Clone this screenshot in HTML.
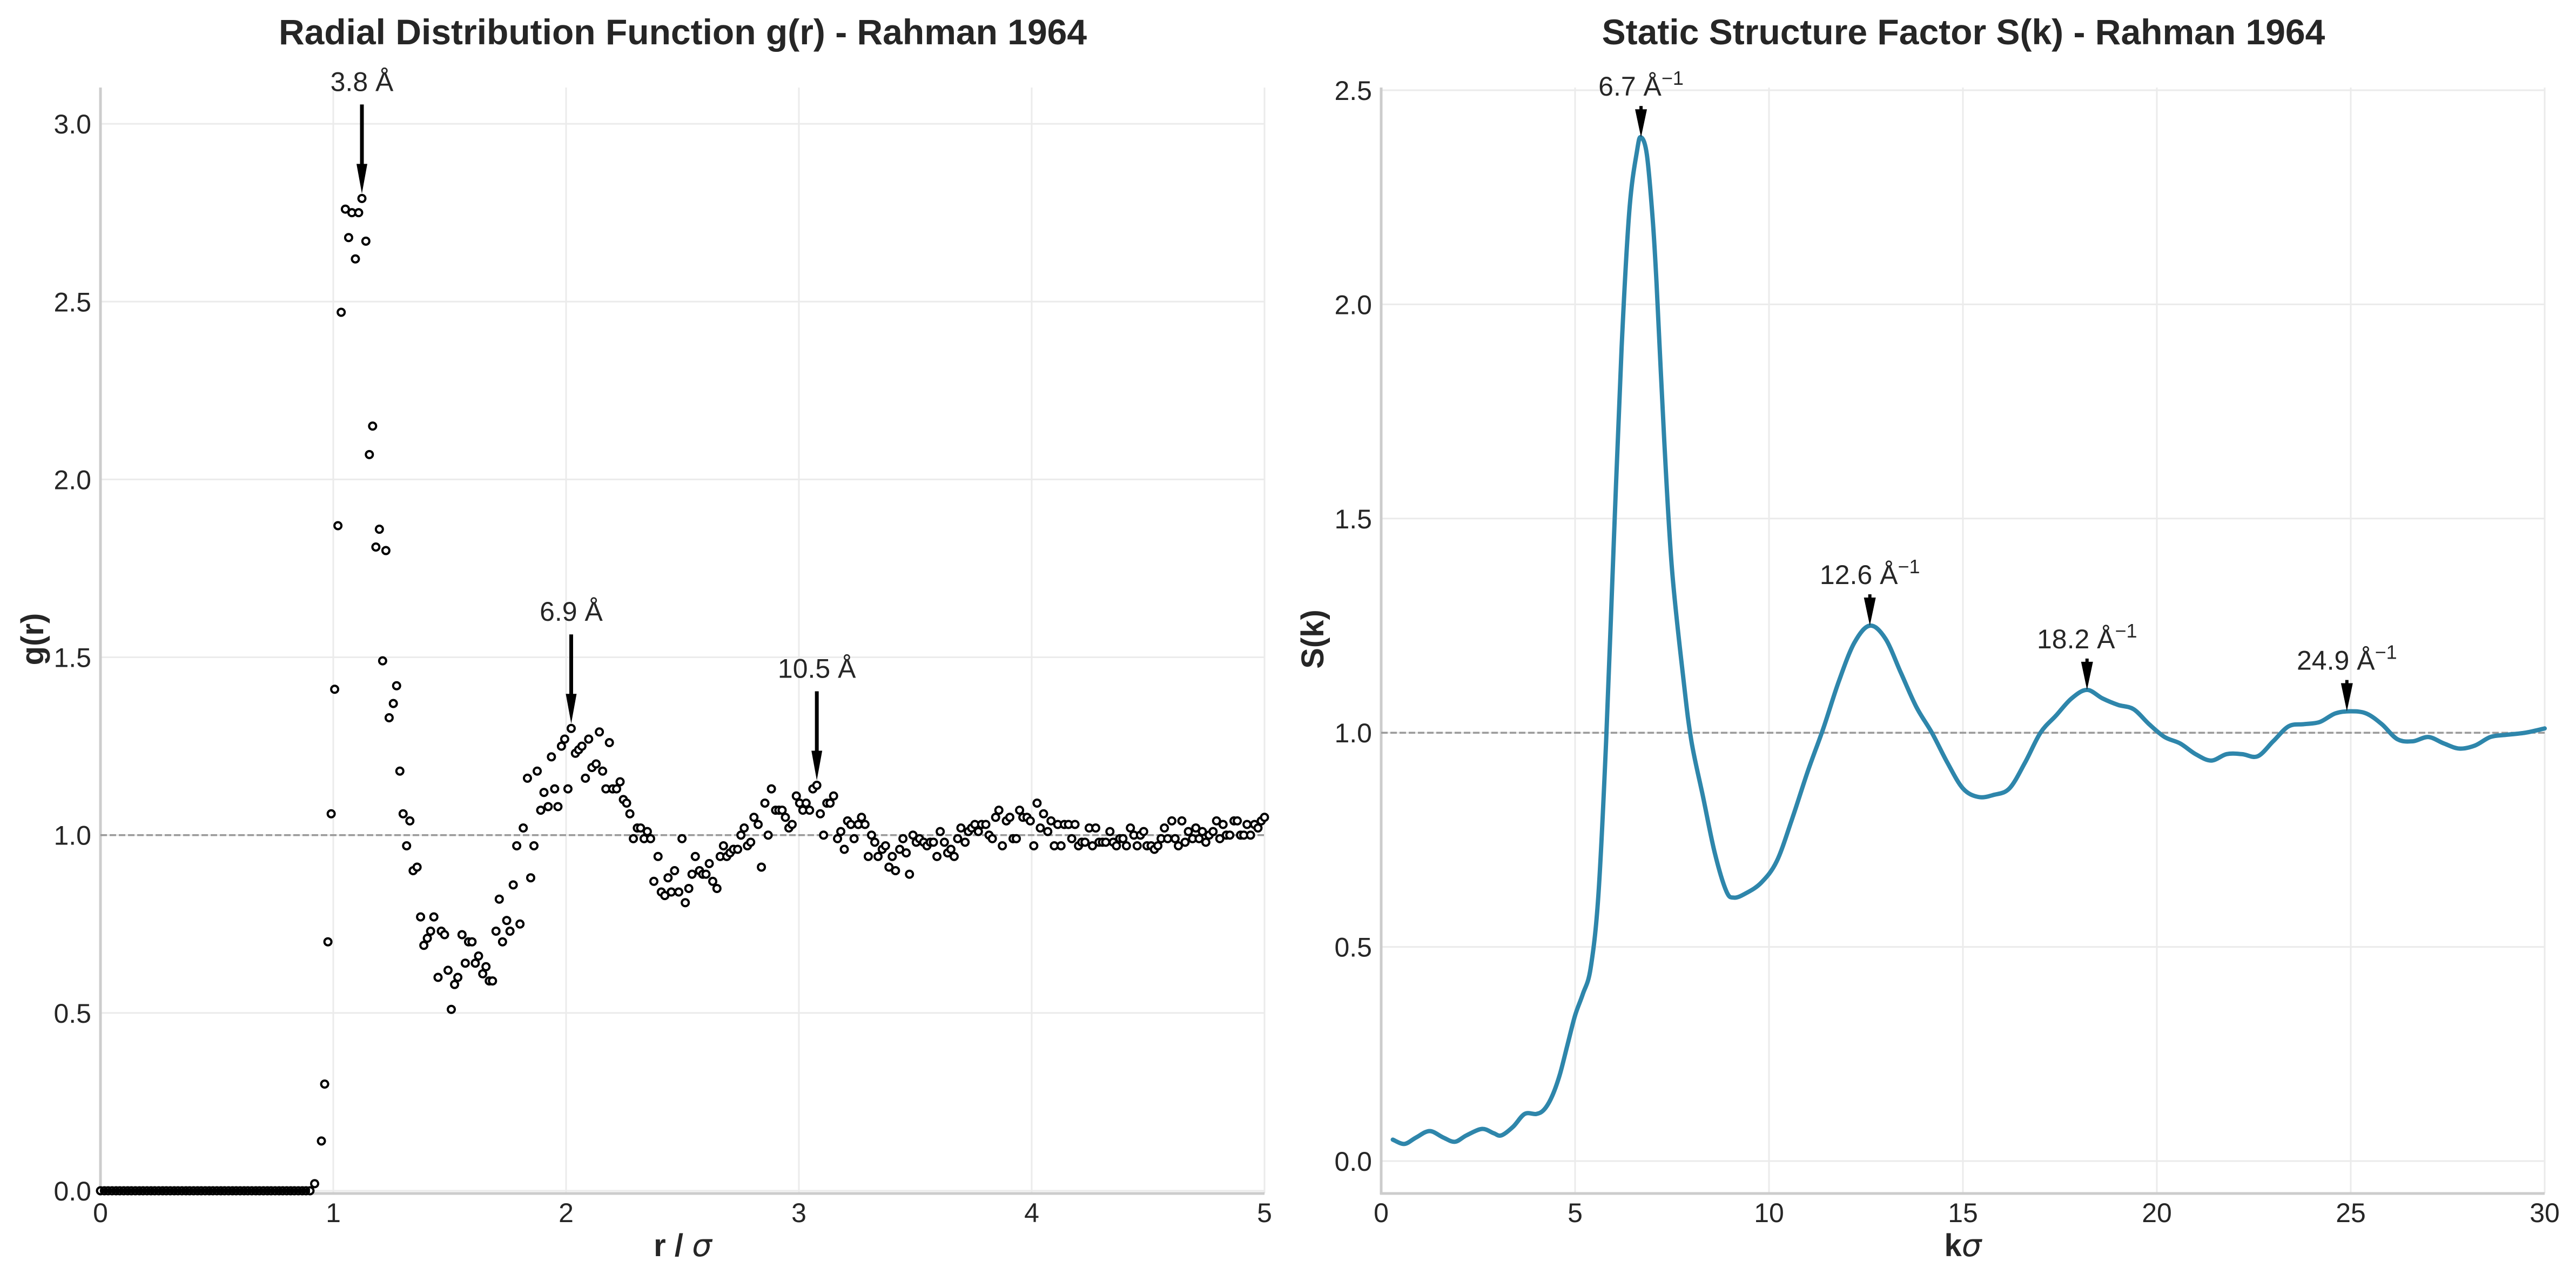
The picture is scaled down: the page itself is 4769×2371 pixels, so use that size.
<!DOCTYPE html>
<html><head><meta charset="utf-8"><style>
html,body{margin:0;padding:0;background:#fff;}
svg{display:block;font-family:"Liberation Sans",Arial,sans-serif;}
</style></head><body>
<svg id="fig" width="4769" height="2371" viewBox="0 0 4769 2371" xmlns="http://www.w3.org/2000/svg">
<rect width="4769" height="2371" fill="#fff"/>
<g id="left"></g>
<g id="right"></g>
</svg>
<script>
// ---- g(r) data ----
const gR = [0,0.017,0.033,0.05,0.067,0.083,0.1,0.117,0.133,0.15,0.167,0.183,0.2,0.217,0.233,0.25,0.267,0.283,0.3,0.317,0.333,0.35,0.367,0.383,0.4,0.417,0.433,0.45,0.467,0.483,0.5,0.517,0.533,0.55,0.567,0.583,0.6,0.617,0.633,0.65,0.667,0.683,0.7,0.717,0.733,0.75,0.767,0.783,0.8,0.817,0.833,0.85,0.867,0.883,0.9,
0.92,0.949,0.963,0.977,0.991,1.006,1.02,1.034,1.052,1.066,1.08,1.095,1.109,1.123,1.14,1.155,1.169,1.183,1.198,1.212,1.226,1.24,1.258,1.272,1.286,1.30,1.315,1.329,1.343,1.36,1.375,1.389,1.404,1.418,1.432,1.45,1.464,1.478,1.493,1.507,1.521,1.535,1.553,1.567,1.581,1.596,1.61,1.624,1.642,1.656,1.67,1.684,1.699,1.713,1.727,1.745,1.759,1.773,1.788,1.802,1.816,1.834,1.848,1.862,1.876,1.891,1.905,1.923,1.937,1.951,1.965,1.98,1.994,2.008,2.022,2.04,2.054,2.068,2.083,2.097,2.111,2.129,2.143,2.157,2.171,2.186,2.20,2.217,2.232,2.246,2.26,2.274,2.289,2.306,2.32,2.335,2.349,2.363,2.377,2.395,2.409,2.424,2.438,2.452,2.466,2.484,2.498,2.512,2.527,2.541,2.555,2.573,2.587,2.601,2.615,2.63,2.648,2.662,2.676,2.69,2.704,2.719,2.737,2.751,2.765,2.779,2.793,2.807,2.825,2.839,2.854,2.868,2.882,2.90,2.914,2.928,2.942,2.957,2.971,2.989,3.003,3.017,3.031,3.046,3.06,3.077,3.092,3.106,3.12,3.134,3.149,3.166,3.18,3.195,3.209,3.223,3.237,3.255,3.269,3.284,3.298,3.312,3.326,3.34,3.358,3.372,3.387,3.401,3.415,3.433,3.447,3.461,3.475,3.49,3.504,3.518,3.536,3.55,3.564,3.578,3.593,3.607,3.625,3.639,3.653,3.667,3.682,3.696,3.714,3.728,3.742,3.756,3.771,3.785,3.803,3.817,3.831,3.845,3.859,3.874,3.891,3.906,3.92,3.934,3.948,3.962,3.98,3.994,4.009,4.023,4.037,4.051,4.069,4.083,4.097,4.112,4.126,4.14,4.158,4.172,4.186,4.201,4.215,4.229,4.247,4.261,4.275,4.289,4.304,4.318,4.336,4.35,4.364,4.378,4.392,4.407,4.424,4.439,4.453,4.467,4.481,4.495,4.513,4.527,4.542,4.556,4.57,4.584,4.602,4.616,4.63,4.645,4.659,4.673,4.691,4.705,4.719,4.733,4.748,4.762,4.779,4.794,4.808,4.822,4.836,4.851,4.869,4.883,4.897,4.911,4.925,4.94,4.957,4.972,4.986,5.0];
const gVals = [0,0,0,0,0,0,0,0,0,0,0,0,0,0,0,0,0,0,0,0,0,0,0,0,0,0,0,0,0,0,0,0,0,0,0,0,0,0,0,0,0,0,0,0,0,0,0,0,0,0,0,0,0,0,0,
0.02,0.14,0.30,0.70,1.06,1.41,1.87,2.47,2.76,2.68,2.75,2.62,2.75,2.79,2.67,2.07,2.15,1.81,1.86,1.49,1.80,1.33,1.37,1.42,1.18,1.06,0.97,1.04,0.90,0.91,0.77,0.69,0.71,0.73,0.77,0.60,0.73,0.72,0.62,0.51,0.58,0.60,0.72,0.64,0.70,0.70,0.64,0.66,0.61,0.63,0.59,0.59,0.73,0.82,0.70,0.76,0.73,0.86,0.97,0.75,1.02,1.16,0.88,0.97,1.18,1.07,1.12,1.08,1.22,1.13,1.08,1.25,1.27,1.13,1.30,1.23,1.24,1.25,1.16,1.27,1.19,1.20,1.29,1.18,1.13,1.26,1.13,1.13,1.15,1.10,1.09,1.06,0.99,1.02,1.02,0.99,1.01,0.99,0.87,0.94,0.84,0.83,0.88,0.84,0.90,0.84,0.99,0.81,0.85,0.89,0.94,0.90,0.89,0.89,0.92,0.87,0.85,0.94,0.97,0.94,0.95,0.96,0.96,1.00,1.02,0.97,0.98,1.05,1.03,0.91,1.09,1.00,1.13,1.07,1.07,1.07,1.05,1.02,1.03,1.11,1.09,1.07,1.09,1.07,1.13,1.14,1.06,1.00,1.09,1.09,1.11,0.99,1.01,0.96,1.04,1.03,0.99,1.03,1.05,1.03,0.94,1.00,0.98,0.94,0.96,0.97,0.91,0.94,0.90,0.96,0.99,0.95,0.89,1.00,0.98,0.99,0.98,0.97,0.98,0.98,0.94,1.01,0.98,0.95,0.96,0.94,0.99,1.02,0.98,1.01,1.02,1.03,1.01,1.03,1.03,1.00,0.99,1.05,1.07,0.97,1.04,1.05,0.99,0.99,1.07,1.05,1.05,1.04,0.97,1.09,1.02,1.06,1.01,1.04,0.97,1.03,0.97,1.03,1.03,0.99,1.03,0.97,0.98,0.98,1.02,0.97,1.02,0.98,0.98,0.98,1.01,0.98,0.97,0.99,0.99,0.97,1.02,1.00,0.97,1.00,1.01,0.97,0.97,0.96,0.97,0.99,1.02,0.99,1.04,0.99,0.97,1.04,0.98,1.01,0.99,1.02,0.99,1.01,0.98,1.00,1.01,1.04,0.99,1.03,1.00,1.00,1.04,1.04,1.00,1.00,1.03,1.00,1.03,1.02,1.04,1.05];
const gXTicks = [0,1,2,3,4,5];
const gYTicks = [0.0,0.5,1.0,1.5,2.0,2.5,3.0];
const gPeakR = [1.123, 2.022, 3.077];
const gPeakG = [2.79, 1.30, 1.14];
const gPeakLabels = ["3.8 Å", "6.9 Å", "10.5 Å"];

// ---- S(k) data ----
const sK = [0.3,0.6,0.9,1.25,1.6,1.9,2.2,2.6,2.9,3.1,3.4,3.7,4.0,4.2,4.4,4.6,4.8,5.0,5.2,5.4,5.6,5.8,6.0,6.2,6.4,6.6,6.7,6.85,7.0,7.1,7.3,7.5,7.8,8.0,8.3,8.6,8.9,9.1,9.4,9.8,10.2,10.6,11.0,11.4,11.8,12.2,12.6,13.0,13.4,13.8,14.2,14.6,15.0,15.4,15.8,16.2,16.6,17.0,17.4,17.8,18.2,18.6,19.0,19.4,19.8,20.2,20.6,21.0,21.4,21.8,22.2,22.6,23.0,23.4,23.8,24.2,24.6,25.0,25.4,25.8,26.2,26.6,27.0,27.4,27.8,28.2,28.6,29.0,29.5,30.0];
const sVals = [0.05,0.04,0.055,0.07,0.055,0.045,0.06,0.075,0.065,0.06,0.08,0.11,0.11,0.12,0.15,0.2,0.27,0.34,0.39,0.45,0.62,0.98,1.45,1.9,2.22,2.36,2.39,2.35,2.2,2.05,1.68,1.38,1.12,0.98,0.85,0.72,0.63,0.615,0.625,0.65,0.7,0.8,0.91,1.01,1.12,1.21,1.25,1.22,1.14,1.06,1.0,0.93,0.87,0.85,0.855,0.87,0.93,1.0,1.04,1.08,1.10,1.08,1.065,1.055,1.02,0.99,0.975,0.95,0.935,0.95,0.95,0.945,0.98,1.015,1.02,1.025,1.045,1.05,1.045,1.02,0.985,0.98,0.99,0.975,0.963,0.97,0.99,0.995,1.0,1.01];
const sXTicks = [0,5,10,15,20,25,30];
const sYTicks = [0.0,0.5,1.0,1.5,2.0,2.5];
const sPeakK = [6.7, 12.6, 18.2, 24.9];
const sPeakS = [2.39, 1.25, 1.10, 1.05];
const sPeakLabels = ["6.7 Å", "12.6 Å", "18.2 Å", "24.9 Å"];

const NS = "http://www.w3.org/2000/svg";
function mk(parent, tag, attrs, text){
  const e = document.createElementNS(NS, tag);
  for (const k in attrs) e.setAttribute(k, attrs[k]);
  if (text !== undefined) e.textContent = text;
  parent.appendChild(e);
  return e;
}

const L = {x0:186, x1:2341, top:162, bot:2209};
const gx = r => L.x0 + (r - 0) / 5 * (L.x1 - L.x0);
const gy = g => 2204 - g * 658.3;
const R = {x0:2557, x1:4711, top:162, bot:2209};
const sx = k => R.x0 + k / 30 * (R.x1 - R.x0);
const sy = s => 2149 - s * 792.8;

function axesFrame(g, A, xt, yt, fx, fy, xfmt, yfmt, pre){
  xt.forEach(v => {
    const x = fx(v);
    const l = mk(g, "line", {x1:x, x2:x, y1:A.top, y2:A.bot, stroke:"#ebebeb", "stroke-width":3});
    
    
    const t = mk(g, "text", {x:x, y:2262, "text-anchor":"middle", "font-size":50, fill:"#262626"}, xfmt(v));
    
    
  });
  yt.forEach(v => {
    const y = fy(v);
    const l = mk(g, "line", {x1:A.x0, x2:A.x1, y1:y, y2:y, stroke:"#ebebeb", "stroke-width":3});
    
    
    const t = mk(g, "text", {x:A.x0 - 17, y:y + 18, "text-anchor":"end", "font-size":50, fill:"#262626"}, yfmt(v));
    
    
  });
  const s1 = mk(g, "line", {x1:A.x0, x2:A.x0, y1:A.top, y2:A.bot+2, stroke:"#cccccc", "stroke-width":5});
  
  
  const s2 = mk(g, "line", {x1:A.x0-2, x2:A.x1, y1:A.bot, y2:A.bot, stroke:"#cccccc", "stroke-width":5});
  
  
}

// ----- Left panel -----
const left = document.getElementById("left");
axesFrame(left, L, gXTicks, gYTicks, gx, gy, v => String(v), v => v.toFixed(1), "gr");
const refL = mk(left, "line", {x1:L.x0, x2:L.x1, y1:gy(1), y2:gy(1), stroke:"#999", "stroke-width":3.5, "stroke-dasharray":"12,5"});


const pts = mk(left, "g", {});


for (let i = 0; i < gR.length; i++) {
  const c = mk(pts, "circle", {cx:gx(gR[i]), cy:gy(gVals[i]), r:6.5, fill:"#fff", stroke:"#000", "stroke-width":4});
  
  
}
// zero-region points overlap into a solid thick line in the reference
const zl = mk(left, "line", {x1:gx(gR[0]), x2:gx(0.9), y1:gy(0), y2:gy(0), stroke:"#000", "stroke-width":8});


gPeakR.forEach((r, i) => {
  const x = gx(r), tipY = gy(gPeakG[i]) - 9;
  const a = mk(left, "g", {});
  
  
  mk(a, "line", {x1:x, x2:x, y1:tipY - 165, y2:tipY - 50, stroke:"#000", "stroke-width":7});
  mk(a, "polygon", {points:`${x-10},${tipY-55} ${x+10},${tipY-55} ${x},${tipY}`, fill:"#000"});
  const t = mk(a, "text", {x:x, y:tipY - 190, "text-anchor":"middle", "font-size":50, fill:"#262626"}, gPeakLabels[i]);
  
  
});
let t;
t = mk(left, "text", {x:1264, y:82, "text-anchor":"middle", "font-size":66, "font-weight":"bold", fill:"#262626"}, "Radial Distribution Function g(r) - Rahman 1964");


t = mk(left, "text", {x:1264, y:2325, "text-anchor":"middle", "font-size":58, "font-weight":"bold", fill:"#262626"});


mk(t, "tspan", {}, "r / ");
mk(t, "tspan", {"font-style":"italic", "font-weight":"normal", "font-family":"DejaVu Sans, sans-serif"}, "σ");
t = mk(left, "text", {x:0, y:0, transform:"translate(80,1183) rotate(-90)", "text-anchor":"middle", "font-size":58, "font-weight":"bold", fill:"#262626"}, "g(r)");



// ----- Right panel -----
const right = document.getElementById("right");
axesFrame(right, R, sXTicks, sYTicks, sx, sy, v => String(v), v => v.toFixed(1), "sk");
const refR = mk(right, "line", {x1:R.x0, x2:R.x1, y1:sy(1), y2:sy(1), stroke:"#999", "stroke-width":3.5, "stroke-dasharray":"12,5"});


const P = sK.map((k, i) => [sx(k), sy(sVals[i])]);
let d = `M${P[0][0]},${P[0][1]}`;
for (let i = 0; i < P.length - 1; i++) {
  const p0 = P[Math.max(0, i-1)], p1 = P[i], p2 = P[i+1], p3 = P[Math.min(P.length-1, i+2)];
  const c1 = [p1[0] + (p2[0]-p0[0])/6, p1[1] + (p2[1]-p0[1])/6];
  const c2 = [p2[0] - (p3[0]-p1[0])/6, p2[1] - (p3[1]-p1[1])/6];
  d += ` C${c1[0]},${c1[1]} ${c2[0]},${c2[1]} ${p2[0]},${p2[1]}`;
}
const curve = mk(right, "path", {d:d, fill:"none", stroke:"#2e86ab", "stroke-width":8, "stroke-linejoin":"round", "stroke-linecap":"round"});


sPeakK.forEach((k, i) => {
  const x = sx(k), tipY = sy(sPeakS[i]);
  const a = mk(right, "g", {});
  
  
  mk(a, "line", {x1:x, x2:x, y1:tipY - 58, y2:tipY - 45, stroke:"#000", "stroke-width":6});
  mk(a, "polygon", {points:`${x-11},${tipY-52} ${x+11},${tipY-52} ${x},${tipY}`, fill:"#000"});
  const tt = mk(a, "text", {x:x, y:tipY - 77, "text-anchor":"middle", "font-size":50, fill:"#262626"});
  
  
  mk(tt, "tspan", {}, sPeakLabels[i]);
  mk(tt, "tspan", {"font-size":36, dy:-20}, "−1");
});
t = mk(right, "text", {x:3635, y:82, "text-anchor":"middle", "font-size":66, "font-weight":"bold", fill:"#262626"}, "Static Structure Factor S(k) - Rahman 1964");


t = mk(right, "text", {x:3634, y:2325, "text-anchor":"middle", "font-size":58, "font-weight":"bold", fill:"#262626"});


mk(t, "tspan", {}, "k");
mk(t, "tspan", {"font-style":"italic", "font-weight":"normal", "font-family":"DejaVu Sans, sans-serif"}, "σ");
t = mk(right, "text", {x:0, y:0, transform:"translate(2450,1183) rotate(-90)", "text-anchor":"middle", "font-size":58, "font-weight":"bold", fill:"#262626"}, "S(k)");


</script>
</body></html>
